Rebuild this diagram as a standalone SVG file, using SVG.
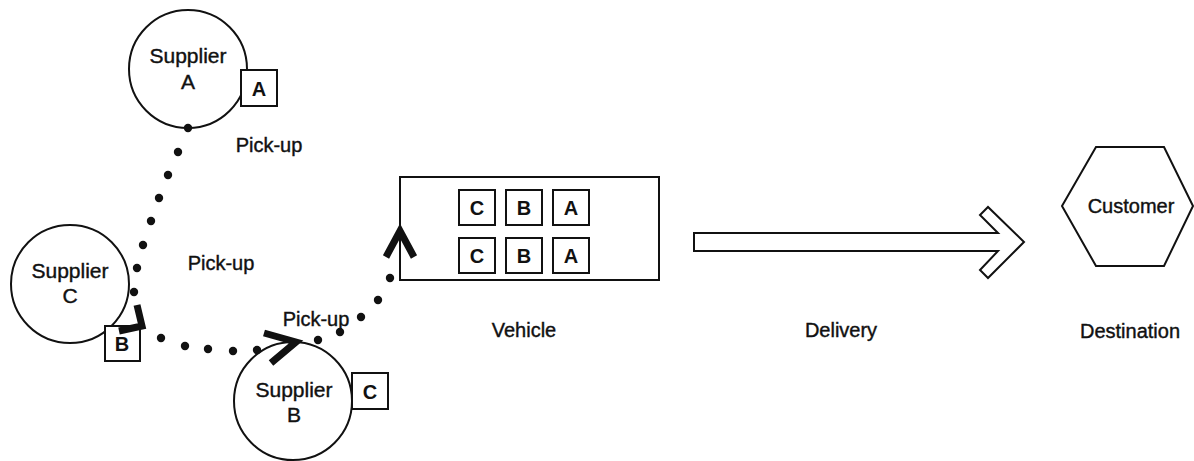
<svg xmlns="http://www.w3.org/2000/svg" width="1194" height="461" viewBox="0 0 1194 461">
<style>
.ln{fill:none;stroke:#111;stroke-width:2}
.bx{fill:#fff;stroke:#111;stroke-width:2}
.t{font-family:"Liberation Sans",Arial,sans-serif;font-size:20px;fill:#111;stroke:#111;stroke-width:0.4;text-anchor:middle}
.s{font-size:21px}
.b{font-weight:bold;stroke-width:0}
.dot{fill:#111}
.ah{fill:none;stroke:#111;stroke-width:7;stroke-linejoin:miter;stroke-linecap:butt}
</style>
<rect width="1194" height="461" fill="#fff"/>
<g id="supplierA">
<circle class="ln" cx="188" cy="69" r="59"/>
<text class="t s" x="188" y="63">Supplier</text>
<text class="t s" x="188" y="89">A</text>
<rect class="bx" x="241" y="70" width="36" height="36"/>
<text class="t b" x="259" y="96">A</text>
</g>
<g id="supplierC">
<circle class="ln" cx="70" cy="284" r="59"/>
<text class="t s" x="70" y="278">Supplier</text>
<text class="t s" x="70" y="303">C</text>
<rect class="bx" x="105" y="326" width="35" height="35"/>
<text class="t b" x="122" y="351">B</text>
</g>
<g id="supplierB">
<circle class="ln" cx="293" cy="401" r="59"/>
<text class="t s" x="294" y="397">Supplier</text>
<text class="t s" x="294" y="422">B</text>
<rect class="bx" x="352" y="373" width="36" height="36"/>
<text class="t b" x="370" y="399">C</text>
</g>
<g id="vehicle">
<rect class="ln" x="400" y="177" width="259" height="103"/>
<rect class="bx" x="459" y="190" width="36" height="35"/>
<text class="t b" x="477" y="215">C</text>
<rect class="bx" x="506" y="190" width="36" height="35"/>
<text class="t b" x="524" y="215">B</text>
<rect class="bx" x="553" y="190" width="36" height="35"/>
<text class="t b" x="571" y="215">A</text>
<rect class="bx" x="459" y="238" width="36" height="35"/>
<text class="t b" x="477" y="263">C</text>
<rect class="bx" x="506" y="238" width="36" height="35"/>
<text class="t b" x="524" y="263">B</text>
<rect class="bx" x="553" y="238" width="36" height="35"/>
<text class="t b" x="571" y="263">A</text>
<text class="t" x="524" y="337">Vehicle</text>
</g>
<g id="customer">
<polygon class="ln" points="1096,147 1164,147 1193,206 1164,266 1096,266 1062,206"/>
<text class="t" x="1131" y="213">Customer</text>
<text class="t" x="1130" y="338">Destination</text>
</g>
<g id="connectors">
<g class="dot">
<circle cx="188" cy="128" r="4.2"/>
<circle cx="178" cy="152" r="4.2"/>
<circle cx="168" cy="175" r="4.2"/>
<circle cx="159" cy="198" r="4.2"/>
<circle cx="151" cy="221" r="4.2"/>
<circle cx="143" cy="245" r="4.2"/>
<circle cx="137" cy="268" r="4.2"/>
<circle cx="134" cy="292" r="4.2"/>
<circle cx="161" cy="338" r="4.2"/>
<circle cx="185" cy="346" r="4.2"/>
<circle cx="208" cy="349" r="4.2"/>
<circle cx="233" cy="351" r="4.2"/>
<circle cx="257" cy="350" r="4.2"/>
<circle cx="318" cy="340" r="4.2"/>
<circle cx="340" cy="332" r="4.2"/>
<circle cx="361" cy="317" r="4.2"/>
<circle cx="378" cy="300" r="4.2"/>
<circle cx="390" cy="278" r="4.2"/>
</g>
<polyline class="ah" points="137,305 142,326 119,331"/>
<polyline class="ah" points="264,333 296,342 271,363"/>
<polyline class="ah" points="386,257 400,231 414,257"/>
<polygon class="ln" points="694,233 998,233 980,215 988,207 1024,242 988,278 980,270 998,251 694,251"/>
<text class="t" x="269" y="152">Pick-up</text>
<text class="t" x="221" y="270">Pick-up</text>
<text class="t" x="316" y="326">Pick-up</text>
<text class="t" x="841" y="337">Delivery</text>
</g>
</svg>
